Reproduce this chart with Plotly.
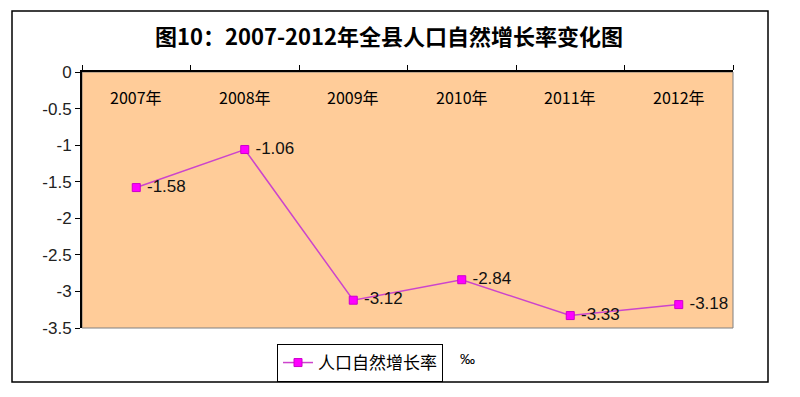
import plotly.graph_objects as go

years = ["2007年", "2008年", "2009年", "2010年", "2011年", "2012年"]
rates = [-1.58, -1.06, -3.12, -2.84, -3.33, -3.18]
y_ticks = [0, -0.5, -1, -1.5, -2, -2.5, -3, -3.5]
y_tick_labels = ["0", "-0.5", "-1", "-1.5", "-2", "-2.5", "-3", "-3.5"]
series_name = "人口自然增长率"
title_text = "图10：2007-2012年全县人口自然增长率变化图"
unit_text = "‰"

CJK = "Noto Sans CJK SC"
LAT = "Liberation Sans, Arial, sans-serif"

L, R, T, B = 82, 733, 72, 328
W, H = 800, 397
pw, ph = R - L, B - T

def px(x):
    return (x - L) / pw

def py(y):
    return (B - y) / ph

fig = go.Figure()
fig.add_trace(go.Scatter(
    x=years, y=rates, name=series_name,
    mode="lines+markers+text",
    line=dict(color="#CC44CC", width=1.5),
    marker=dict(symbol="square", size=8, color="#FF00FF",
                line=dict(color="#CC00CC", width=1)),
    text=[" " + f"{v:.2f}" for v in rates],
    textposition="middle right",
    textfont=dict(family=LAT, size=17, color="#111111"),
    cliponaxis=False,
))

annotations = [
    dict(text=yr, xref="x", yref="paper", x=yr, y=py(97),
         showarrow=False, font=dict(family=CJK, size=16, color="#000000"),
         xanchor="center", yanchor="middle")
    for yr in years
]
annotations.append(
    dict(text=unit_text, xref="paper", yref="paper", x=px(467), y=py(358),
         showarrow=False, font=dict(family=LAT, size=15, color="#000000"),
         xanchor="center", yanchor="middle"))

fig.update_layout(
    width=W, height=H,
    margin=dict(l=L, r=W - R, t=T, b=H - B, pad=0, autoexpand=False),
    paper_bgcolor="white",
    plot_bgcolor="#FFCC99",
    title=dict(text="<b>" + title_text + "</b>", x=389 / W, xref="container",
               xanchor="center", y=1 - 37 / H, yref="container", yanchor="middle",
               font=dict(family=CJK, size=22, color="#000000")),
    showlegend=True,
    legend=dict(orientation="h", x=px(277), y=py(344), xanchor="left", yanchor="top",
                bordercolor="#000000", borderwidth=1, bgcolor="white",
                font=dict(family=CJK, size=17, color="#000000"),
                itemwidth=30, tracegroupgap=0),
    xaxis=dict(
        type="category", range=[-0.5, 5.5], side="top",
        showline=True, linecolor="#000000", linewidth=1.5,
        ticks="outside", ticklen=5, tickcolor="#000000", tickwidth=1,
        tickson="boundaries", showticklabels=False,
        showgrid=False, zeroline=False, fixedrange=True, automargin=False,
    ),
    yaxis=dict(
        range=[-3.5, 0], tickvals=y_ticks, ticktext=y_tick_labels,
        showline=True, linecolor="#000000", linewidth=2,
        ticks="outside", ticklen=5, tickcolor="#000000", tickwidth=1,
        tickfont=dict(family=LAT, size=17, color="#222222"),
        showgrid=False, zeroline=False, fixedrange=True, automargin=False,
    ),
    shapes=[
        dict(type="rect", xref="paper", yref="paper", x0=0, x1=1, y0=0, y1=1,
             line=dict(color="#808080", width=1), layer="below"),
        dict(type="rect", xref="paper", yref="paper",
             x0=px(12), x1=px(768), y0=py(382), y1=py(11),
             line=dict(color="#000000", width=1.5), layer="below"),
    ],
    annotations=annotations,
)

fig.write_html("out.html", config={"displayModeBar": False},
               post_script="document.body.style.margin='0';")
